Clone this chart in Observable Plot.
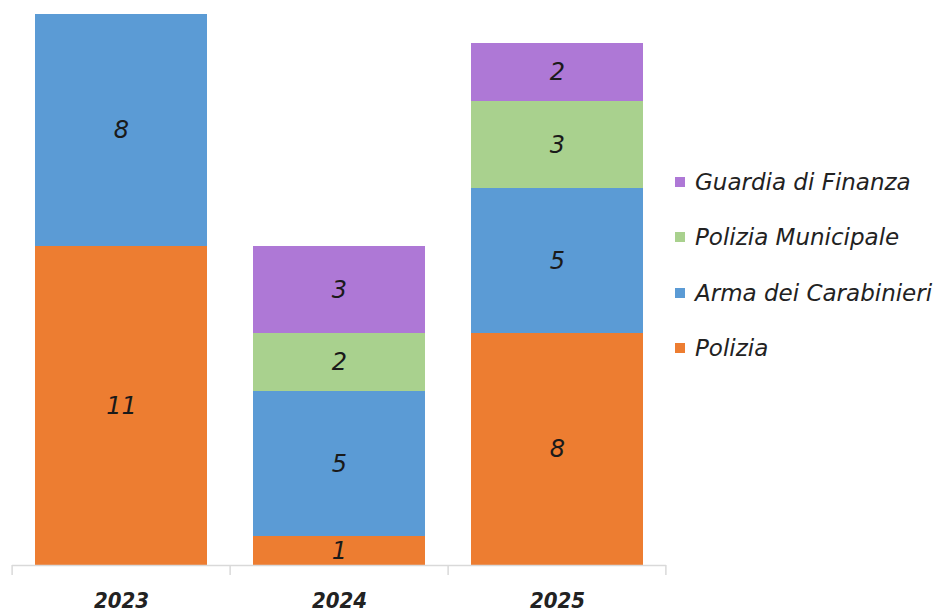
<!DOCTYPE html>
<html><head><meta charset="utf-8">
<script src="https://cdn.jsdelivr.net/npm/d3@7"></script>
<script src="https://cdn.jsdelivr.net/npm/@observablehq/plot@0.6"></script>
<style>
body{margin:0;background:#fff;}
#wrap{position:relative;width:942px;height:613px;overflow:hidden;}
#legend{position:absolute;left:675px;top:154px;font-family:"DejaVu Sans",Verdana,sans-serif;font-style:italic;font-size:23px;color:#222;}
.item{display:flex;align-items:center;height:55.5px;white-space:nowrap;}
.sw{width:10px;height:10px;margin-right:10px;flex:none;}
</style></head><body><div id="wrap"></div>
<script>
const years = ["2023", "2024", "2025"];
const series = ["Polizia", "Arma dei Carabinieri", "Polizia Municipale", "Guardia di Finanza"];
const polizia = [11, 1, 8];
const carabinieri = [8, 5, 5];
const municipale = [0, 2, 3];
const finanza = [0, 3, 2];
const colors = ["#ED7D31", "#5B9BD5", "#A9D18E", "#AE78D6"];

const valuesBySeries = [polizia, carabinieri, municipale, finanza];
const data = [];
years.forEach((year, i) => {
  series.forEach((s, j) => {
    const v = valuesBySeries[j][i];
    if (v > 0) data.push({year, series: s, value: v});
  });
});

const padIn = 0.21;

const chart = Plot.plot({
  width: 942,
  height: 613,
  marginLeft: 12,
  marginRight: 276,
  marginTop: 14,
  marginBottom: 48,
  style: {background: "#fff", overflow: "visible"},
  x: {domain: years, paddingInner: padIn, paddingOuter: padIn / 2, axis: null, label: null},
  y: {domain: [0, 19], axis: null, label: null},
  color: {domain: series, range: colors},
  marks: [
    Plot.barY(data, {x: "year", y: "value", fill: "series", order: null}),
    Plot.text(data, Plot.stackY({x: "year", y: "value", text: d => String(d.value), order: null,
      fontSize: 24, fontStyle: "italic", fill: "#1a1a1a", fontFamily: "DejaVu Sans, Verdana, sans-serif"})),
    Plot.ruleY([0], {stroke: "#d9d9d9", strokeWidth: 1.5}),
    // category boundary ticks below the axis
    (index, scales, values, dimensions) => {
      const x = scales.x;
      const step = x.step ? x.step() : x.bandwidth() / (1 - padIn);
      const y0 = scales.y(0);
      const g = d3.create("svg:g");
      const bounds = years.map(yv => x(yv) - step * padIn / 2);
      bounds.push(x(years[years.length - 1]) + x.bandwidth() + step * padIn / 2);
      g.selectAll("line").data(bounds).join("line")
        .attr("x1", d => d).attr("x2", d => d)
        .attr("y1", y0).attr("y2", y0 + 10)
        .attr("stroke", "#d9d9d9").attr("stroke-width", 1.5);
      return g.node();
    },
    Plot.axisX({tickSize: 0, tickPadding: 27, fontSize: 22, fontWeight: "bold", fontStyle: "italic",
      label: null, fill: "#222", fontFamily: "DejaVu Sans Condensed, DejaVu Sans, sans-serif"})
  ]
});

const wrap = document.getElementById("wrap");
wrap.appendChild(chart);

const legend = document.createElement("div");
legend.id = "legend";
[3, 2, 1, 0].forEach(j => {
  const item = document.createElement("div");
  item.className = "item";
  const sw = document.createElement("span");
  sw.className = "sw";
  sw.style.background = colors[j];
  const t = document.createElement("span");
  t.textContent = series[j];
  item.appendChild(sw);
  item.appendChild(t);
  legend.appendChild(item);
});
wrap.appendChild(legend);
</script>
</body></html>
